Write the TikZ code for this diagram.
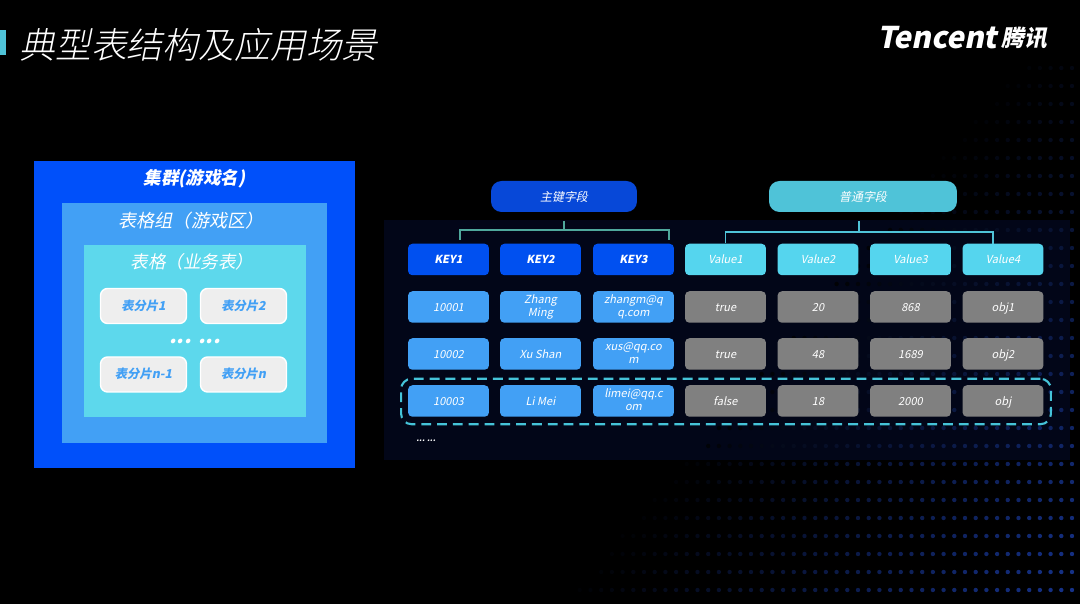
\documentclass[tikz,border=0pt]{standalone}
\usepackage{fontspec}
\newfontfamily\cjkslant[FakeSlant=0.2]{Noto Sans CJK SC}
\newfontfamily\cjklight[FakeSlant=0.2]{Noto Sans CJK SC Light}
\definecolor{clusterblue}{HTML}{0050FA}
\definecolor{groupblue}{HTML}{42A0F5}
\definecolor{tablecyan}{HTML}{5DD8EC}
\definecolor{fieldcyan}{HTML}{55D5EE}
\definecolor{shardgrey}{HTML}{EEEEEE}
\definecolor{keyblue}{HTML}{0050F0}
\definecolor{headblue}{HTML}{0748D8}
\definecolor{headcyan}{HTML}{4FC3D8}
\definecolor{cellgrey}{HTML}{808080}
\definecolor{panelnavy}{HTML}{020618}
\definecolor{dotblue}{HTML}{16338C}
\definecolor{keyline}{HTML}{4FA89C}
\definecolor{dashcyan}{HTML}{45C3D8}
\tikzset{
    box/.style={rectangle,inner sep=0pt},
    boxlabel/.style={text=white,font=\cjkslant\fontsize{#1}{#1}\selectfont},
    shard/.style={rectangle,rounded corners=4pt,draw=white,line width=0.8pt,fill=shardgrey,
        minimum width=1.72cm,minimum height=0.7cm,inner sep=0pt,text=groupblue,
        font=\cjkslant\bfseries\fontsize{7}{7}\selectfont,
        execute at begin node=\rule[-1.5pt]{0pt}{8pt}},
    cell/.style={rectangle,rounded corners=2.5pt,minimum width=1.62cm,minimum height=0.63cm,
        inner sep=0pt,align=center,text=white,font=\cjkslant\fontsize{6.3}{7.4}\selectfont,
        execute at begin node=\rule[-1.5pt]{0pt}{8pt}},
    keycell/.style={cell,fill=keyblue,font=\cjkslant\bfseries\fontsize{6.3}{7.4}\selectfont},
    fieldcell/.style={cell,fill=fieldcyan},
    idcell/.style={cell,fill=groupblue},
    valcell/.style={cell,fill=cellgrey},
    head/.style={rectangle,rounded corners=6pt,minimum height=0.62cm,inner sep=0pt,text=white,
        font=\cjkslant\fontsize{6.8}{7}\selectfont},
    link/.style={line width=1pt}
}
\begin{document}
\begin{tikzpicture}[x=0.02cm,y=-0.02cm]
    \useasboundingbox (0,0) rectangle (1080,604);
    \fill[black] (0,0) rectangle (1080,604);
    % table panel and dot screen
    \fill[panelnavy] (384,220) rectangle (1070,460);
    \foreach \row in {0,...,29}
        {
            \foreach \col in {0,...,48}
                {
                    \pgfmathsetmacro{\px}{1072-10.7*\col}
                    \pgfmathsetmacro{\py}{590-18*\row}
                    \pgfmathsetmacro{\shade}{min(100,max(0,(\px-560-(590-\py)*0.85)/5.2))}
                    \ifdim\shade pt>3pt
                        \fill[dotblue!\shade!black] (\px,\py) circle (2.2);
                    \fi
                }
        }
    % title and logo
    \fill[headcyan] (0,30) rectangle (6,55);
    \node[anchor=west,text=white,inner sep=0pt,font=\cjklight\fontsize{20.4}{21}\selectfont] (title) at (19,45) {典型表结构及应用场景};
    \node[anchor=west,text=white,inner sep=0pt,font=\cjkslant\bfseries\fontsize{17}{17}\selectfont] (logo) at (877,38) {Tencent};
    \node[anchor=west,text=white,inner sep=0pt,font=\cjkslant\bfseries\fontsize{13}{13}\selectfont] (logocn) at (1001,38) {腾讯};
    % nested boxes
    \node[box,fill=clusterblue,minimum width=6.42cm,minimum height=6.14cm] (cluster) at (194.5,314.5) {};
    \node[box,fill=groupblue,minimum width=5.3cm,minimum height=4.8cm] (tablegroup) at (194.5,323) {};
    \node[box,fill=tablecyan,minimum width=4.44cm,minimum height=3.44cm] (table) at (195,331) {};
    \node[boxlabel=10] (clusterlabel) at (194.5,179) {\bfseries 集群(游戏名)};
    \node[boxlabel=10.3] (grouplabel) at (191,221) {表格组（游戏区）};
    \node[boxlabel=10] (tablelabel) at (192,262) {表格（业务表）};
    \node[shard] (shard1) at (143.5,306) {表分片1};
    \node[shard] (shard2) at (243.5,306) {表分片2};
    \node[shard] (shardn1) at (143.5,374.5) {表分片n-1};
    \node[shard] (shardn) at (243.5,374.5) {表分片n};
    \node[text=white,font=\cjkslant\bfseries\fontsize{12}{12}\selectfont,inner sep=0pt] (sharddots) at (195,341) {... ...};
    % field heads
    \node[head,fill=headblue,minimum width=2.92cm] (keyhead) at (564,196.5) {主键字段};
    \node[head,fill=headcyan,minimum width=3.76cm] (fieldhead) at (863,196.5) {普通字段};
    % table cells
    \foreach \name/\cx/\txt in {key1/448.5/KEY1,key2/540.5/KEY2,key3/633.5/KEY3}
        {
            \node[keycell] (\name) at (\cx,259.5) {\txt};
        }
    \foreach \name/\cx/\txt in {val1/725.5/Value1,val2/818/Value2,val3/910.5/Value3,val4/1003/Value4}
        {
            \node[fieldcell] (\name) at (\cx,259.5) {\txt};
        }
    \foreach \name/\cx/\txt in {a1/448.5/10001,a2/540.5/{Zhang\\Ming},a3/633.5/{zhangm@q\\q.com}}
        {
            \node[idcell] (\name) at (\cx,307) {\txt};
        }
    \foreach \name/\cx/\txt in {b1/448.5/10002,b2/540.5/Xu Shan,b3/633.5/{xus@qq.co\\m}}
        {
            \node[idcell] (\name) at (\cx,354) {\txt};
        }
    \foreach \name/\cx/\txt in {c1/448.5/10003,c2/540.5/Li Mei,c3/633.5/{limei@qq.c\\om}}
        {
            \node[idcell] (\name) at (\cx,401) {\txt};
        }
    \foreach \name/\cx/\txt/\rowy in {a4/725.5/true/307,a5/818/20/307,a6/910.5/868/307,a7/1003/obj1/307,
        b4/725.5/true/354,b5/818/48/354,b6/910.5/1689/354,b7/1003/obj2/354,
        c4/725.5/false/401,c5/818/18/401,c6/910.5/2000/401,c7/1003/obj/401}
        {
            \node[valcell] (\name) at (\cx,\rowy) {\txt};
        }
    \node[text=white,font=\cjkslant\bfseries\fontsize{4.5}{5}\selectfont,inner sep=0pt] (moredots) at (426,441) {... ...};
    % selected row
    \node[rectangle,rounded corners=6pt,draw=dashcyan,line width=1.2pt,dash pattern=on 5.6pt off 3.4pt,
        minimum width=13cm,minimum height=0.91cm,inner sep=0pt] (selected) at (726,401.5) {};
    % brackets
    \coordinate (keyl) at (460,240);
    \coordinate (keyr) at (669,240);
    \coordinate (keytop) at (564,221);
    \coordinate (valr) at (993,244);
    \coordinate (valtop) at (859,221);
    \draw[link,keyline] (keytop) -- (564,230);
    \draw[link,keyline] (keyl) |- (keyr |- 0,230) -- (keyr);
    \draw[link,headcyan] (valtop) -- (859,232);
    \draw[link,headcyan] (val1.north) |- (valr |- 0,232) -- (valr);
\end{tikzpicture}
\end{document}
